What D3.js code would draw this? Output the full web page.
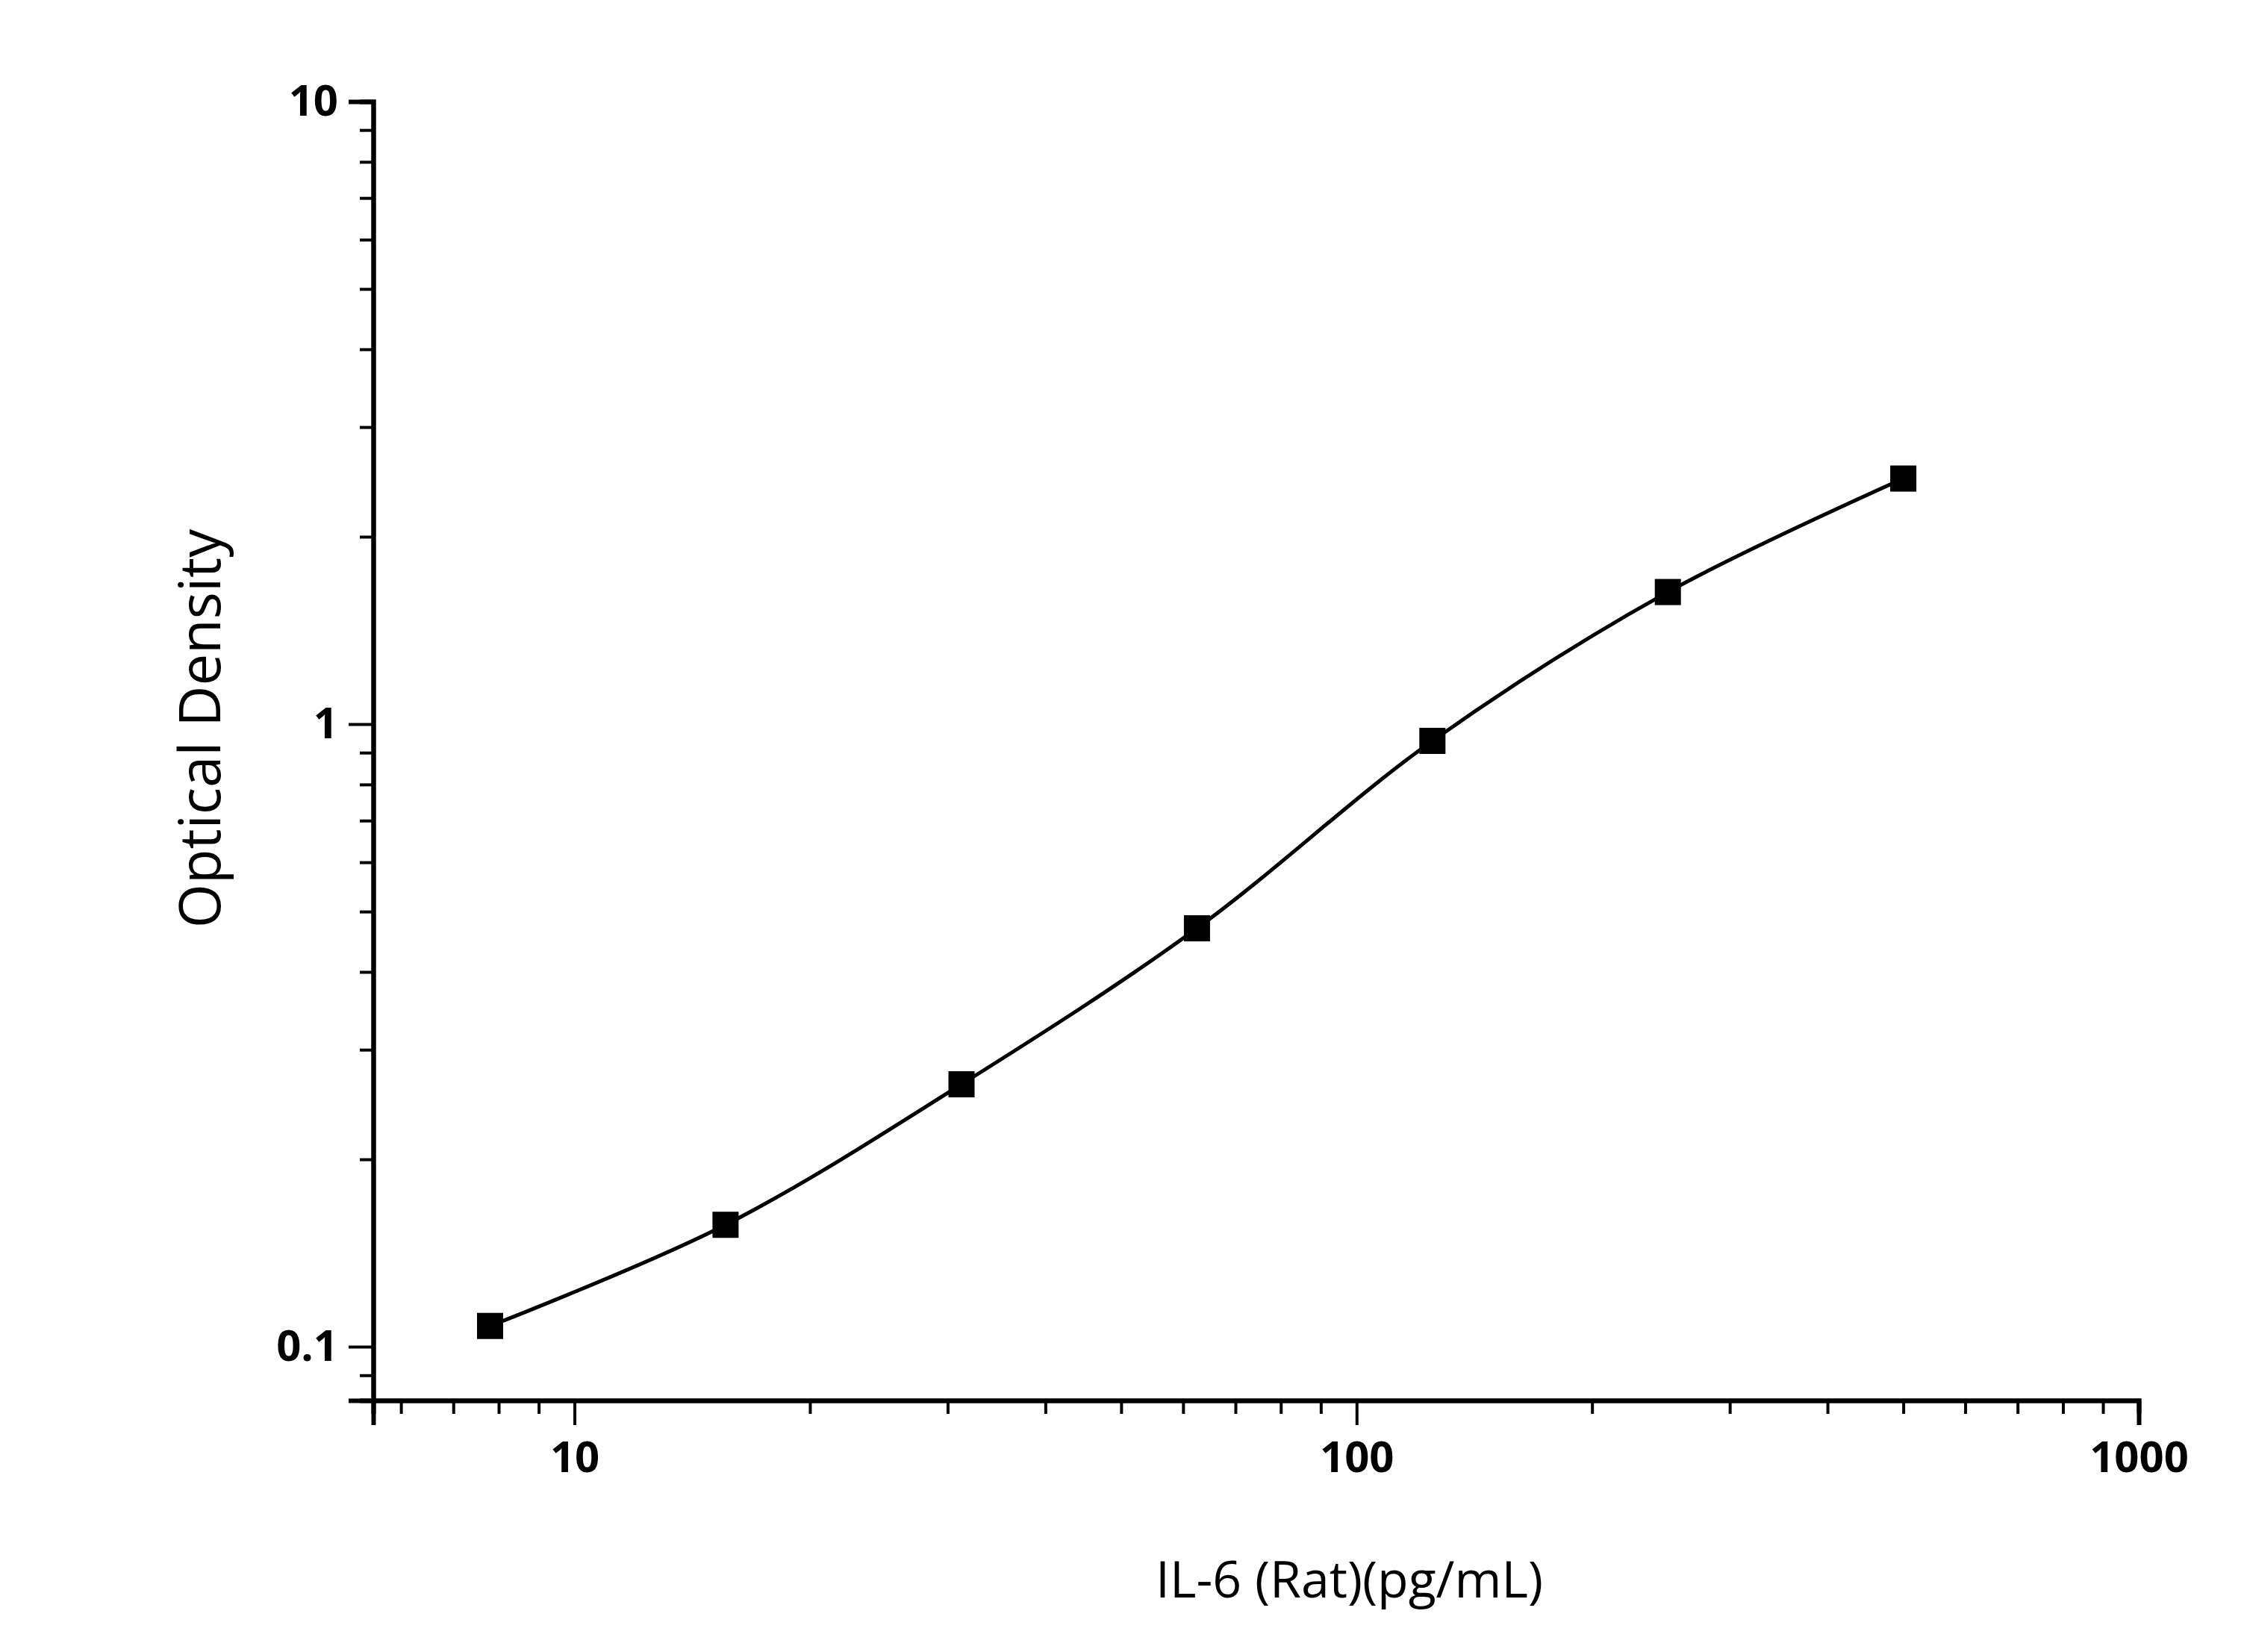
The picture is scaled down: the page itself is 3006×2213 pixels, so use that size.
<!DOCTYPE html>
<html><head><meta charset="utf-8">
<script src="https://cdn.jsdelivr.net/npm/d3@7"></script>
<style>body{margin:0;background:#fff}</style></head>
<body><svg width="3006" height="2213"></svg>
<script>
const conc = [7.8, 15.6, 31.25, 62.5, 125, 250, 500]
const od = [0.108, 0.157, 0.264, 0.47, 0.94, 1.63, 2.48]
const xTicks = [10, 100, 1000]
const yTicks = [0.1, 1, 10]

const svg = d3.select('svg')
const mLeft = 500, mRight = 2865, mTop = 136, mBottom = 1876

const x = d3.scaleLog().domain([5.53, 1000]).range([mLeft, mRight])
const y = d3.scaleLog().domain([0.082, 10]).range([mBottom, mTop])

const font = '"Open Sans", "Noto Sans", sans-serif'

// minor ticks
const xMinor = [], yMinor = []
for (let d = 1; d <= 100; d *= 10) for (let k = 2; k <= 9; k++) if (k * d > 5.53 && k * d < 1000) xMinor.push(k * d)
for (let d = 0.01; d <= 1; d *= 10) for (let k = 2; k <= 9; k++) if (k * d > 0.082 && k * d < 10) yMinor.push(+(k * d).toPrecision(3))

svg.append('g').attr('transform', `translate(0,${mBottom})`)
  .call(d3.axisBottom(x).tickValues(xMinor).tickSize(18).tickFormat(''))
svg.append('g').attr('transform', `translate(0,${mBottom})`)
  .call(d3.axisBottom(x).tickValues(xTicks).tickSize(33).tickPadding(22).tickFormat(d3.format('d')))
svg.append('g').attr('transform', `translate(${mLeft},0)`)
  .call(d3.axisLeft(y).tickValues(yMinor).tickSize(18).tickFormat(''))
svg.append('g').attr('transform', `translate(${mLeft},0)`)
  .call(d3.axisLeft(y).tickValues(yTicks).tickSize(33).tickPadding(14).tickFormat(d => d < 1 ? '0.1' : d3.format('d')(d)))

svg.selectAll('.domain').attr('stroke', '#000').attr('stroke-width', 6)
svg.selectAll('.tick line').attr('stroke', '#000').attr('stroke-width', 4)
svg.selectAll('.tick text').attr('fill', '#000').attr('font-family', font)
  .attr('font-size', 58).attr('font-weight', 'bold')

const line = d3.line().x(d => x(d[0])).y(d => y(d[1])).curve(d3.curveCatmullRom)
svg.append('path').datum(conc.map((c, i) => [c, od[i]]))
  .attr('d', line).attr('fill', 'none').attr('stroke', '#000').attr('stroke-width', 5)

const m = 35
svg.selectAll('rect.pt').data(conc).join('rect').attr('class', 'pt')
  .attr('x', d => x(d) - m / 2).attr('y', (d, i) => y(od[i]) - m / 2)
  .attr('width', m).attr('height', m).attr('fill', '#000')

svg.append('text').attr('x', (mLeft + mRight) / 2 + 125).attr('y', 2140)
  .attr('text-anchor', 'middle').attr('font-family', font).attr('font-size', 68)
  .text('IL-6 (Rat)(pg/mL)')
svg.append('text').attr('transform', `translate(295,${(mTop + mBottom) / 2 - 30}) rotate(-90)`)
  .attr('text-anchor', 'middle').attr('font-family', font).attr('font-size', 76)
  .text('Optical Density')
</script></body></html>
